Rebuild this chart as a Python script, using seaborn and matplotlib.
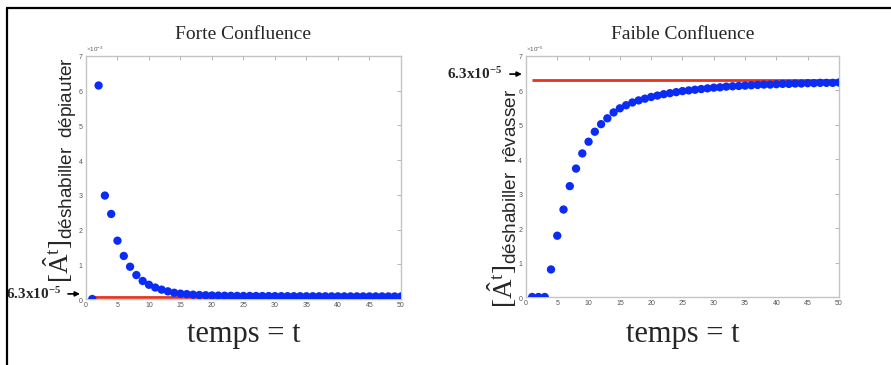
import numpy as np
import pandas as pd
import matplotlib
matplotlib.use('Agg')
import matplotlib.pyplot as plt
import seaborn as sns
from matplotlib.lines import Line2D
from matplotlib.ticker import ScalarFormatter

# time steps
temps = list(range(1, 51))

# Forte Confluence (units of 1e-3)
forte = [0.00, 6.15, 2.98, 2.45, 1.68, 1.24, 0.93, 0.69, 0.52, 0.41,
         0.33, 0.27, 0.22, 0.18, 0.155, 0.14, 0.125, 0.115, 0.108, 0.102,
         0.098, 0.095, 0.092, 0.090, 0.088, 0.087, 0.086, 0.085, 0.084, 0.083,
         0.082, 0.081, 0.080, 0.080, 0.079, 0.079, 0.078, 0.078, 0.077, 0.077,
         0.076, 0.076, 0.076, 0.075, 0.075, 0.075, 0.075, 0.074, 0.074, 0.074]
forte_scale = 1e-3

# Faible Confluence (units of 1e-5)
faible = [0.00, 0.00, 0.00, 0.80, 1.78, 2.54, 3.22, 3.73, 4.17, 4.51,
          4.80, 5.02, 5.19, 5.36, 5.48, 5.57, 5.65, 5.71, 5.76, 5.81,
          5.85, 5.89, 5.92, 5.95, 5.98, 6.00, 6.02, 6.04, 6.06, 6.08,
          6.09, 6.11, 6.12, 6.13, 6.14, 6.15, 6.16, 6.17, 6.17, 6.18,
          6.19, 6.19, 6.20, 6.20, 6.21, 6.21, 6.22, 6.22, 6.22, 6.23]
faible_scale = 1e-5

level = 6.3e-5
titles = ['Forte Confluence', 'Faible Confluence']
ylabels = ['déshabiller\\ \\ dépiauter', 'déshabiller\\ \\ rêvasser']
label_y = [0.53, 0.41]

sns.set_style('white')
plt.rcParams['font.family'] = ['Liberation Serif', 'DejaVu Serif']
plt.rcParams['mathtext.fontset'] = 'custom'
plt.rcParams['mathtext.rm'] = 'Liberation Serif'
plt.rcParams['mathtext.bf'] = 'Liberation Serif:bold'
plt.rcParams['mathtext.sf'] = 'Liberation Sans'
plt.rcParams['mathtext.it'] = 'Liberation Serif:italic'

fig = plt.figure(figsize=(8.91, 3.65), dpi=100)
ax1 = fig.add_axes([0.0965, 0.1808, 0.3535, 0.6658])
ax2 = fig.add_axes([0.5903, 0.1863, 0.3513, 0.6603])

series = [(ax1, forte, forte_scale), (ax2, faible, faible_scale)]
for i, (ax, vals, scale) in enumerate(series):
    df = pd.DataFrame({'t': temps, 'v': np.array(vals) * scale})
    ax.hlines(level, temps[0], temps[-1], color='#e8331c', lw=2.0, zorder=2)
    sns.scatterplot(data=df, x='t', y='v', ax=ax, color='#0b2cf5', s=36,
                    edgecolor='none', zorder=3)
    ax.set_xlim(0, 50)
    ax.set_ylim(0, 7 * scale)
    ax.set_xticks(range(0, 51, 5))
    ax.set_yticks(np.arange(0, 8) * scale)
    fmt = ScalarFormatter(useMathText=True)
    fmt.set_powerlimits((0, 0))
    ax.yaxis.set_major_formatter(fmt)
    ax.yaxis.get_offset_text().set_fontsize(4.5)
    ax.yaxis.get_offset_text().set_color('#666666')
    ax.yaxis.get_offset_text().set_family('Liberation Sans')
    ax.tick_params(direction='in', length=3, width=0.6, colors='#aaaaaa',
                   labelsize=5, labelcolor='#555555', pad=2,
                   top=True, right=True)
    for lab in ax.get_xticklabels() + ax.get_yticklabels():
        lab.set_family('Liberation Sans')
    for sp in ax.spines.values():
        sp.set_color('#c4c4c4')
        sp.set_linewidth(1.0)
    ax.set_xlabel('')
    ax.set_title(titles[i], fontsize=14, pad=12)
    ax.set_ylabel(r'$[\hat{\mathrm{A}}^{\mathrm{t}}]_{\mathsf{' + ylabels[i] + '}}$',
                  fontsize=19.5)
    ax.yaxis.set_label_coords(-0.022, label_y[i])
    # x label drawn below each panel
    bb = ax.get_position()
    fig.text(bb.x0 + bb.width / 2, 0.063, 'temps = t', ha='center',
             va='baseline', fontsize=22)

# arrows with the 6.3x10^-5 note
ax1.annotate(r'$\mathbf{6.3x10^{-5}}$', xy=(-0.019, 0.021), xycoords='axes fraction',
             xytext=(-14, 0), textcoords='offset points', ha='right', va='center',
             fontsize=11, annotation_clip=False,
             arrowprops=dict(arrowstyle='-|>', color='black', lw=1.2,
                             mutation_scale=7, shrinkA=3, shrinkB=0))
ax2.annotate(r'$\mathbf{6.3x10^{-5}}$', xy=(-0.013, 0.925), xycoords='axes fraction',
             xytext=(-14, 0), textcoords='offset points', ha='right', va='center',
             fontsize=11, annotation_clip=False,
             arrowprops=dict(arrowstyle='-|>', color='black', lw=1.2,
                             mutation_scale=7, shrinkA=3, shrinkB=0))

# frame around the figure (top and left edges only)
fig.add_artist(Line2D([7 / 891, 1.0], [1 - 8 / 365, 1 - 8 / 365],
                      transform=fig.transFigure, color='black', lw=1.6))
fig.add_artist(Line2D([7 / 891, 7 / 891], [0.0, 1 - 8 / 365],
                      transform=fig.transFigure, color='black', lw=1.6))

fig.savefig('out.png', dpi=100, facecolor='white')
